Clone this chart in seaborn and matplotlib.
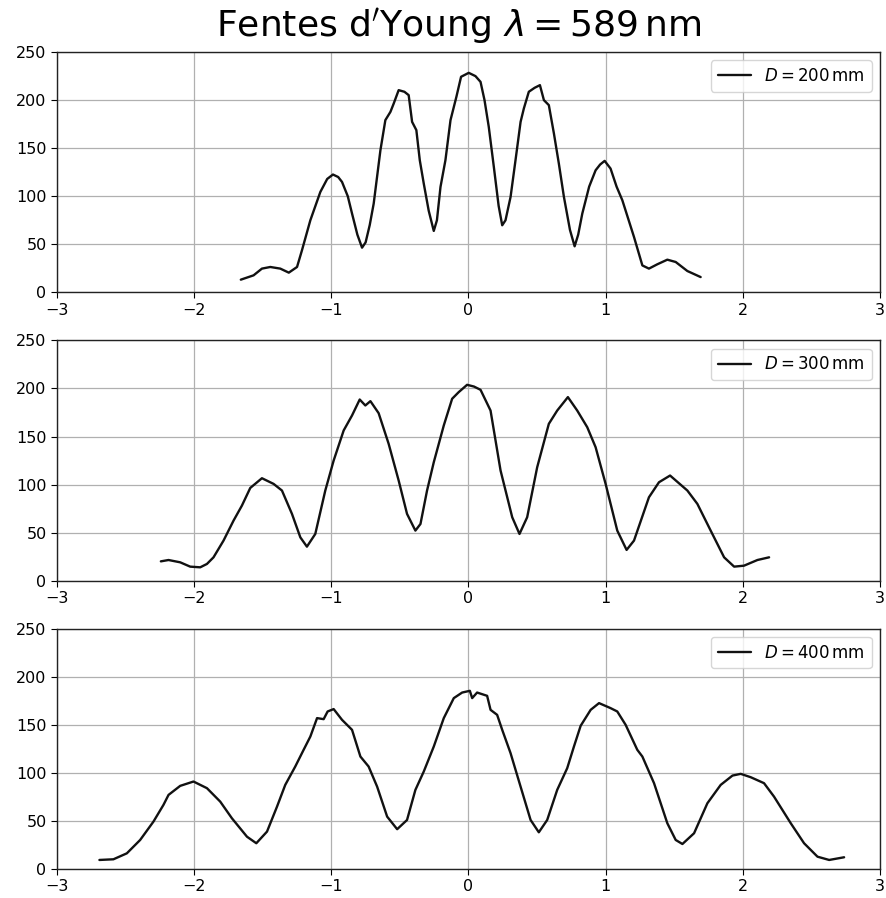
import matplotlib
matplotlib.use("Agg")
import matplotlib.pyplot as plt
import seaborn as sns
import pandas as pd

# Panel 1 : D = 200 mm
x_200 = [-1.66, -1.567, -1.506, -1.445, -1.372, -1.31, -1.25, -1.214, -1.153, -1.08,
         -1.03, -0.988, -0.95, -0.922, -0.88, -0.849, -0.81, -0.776, -0.75, -0.72,
         -0.691, -0.642, -0.606, -0.569, -0.545, -0.509, -0.467, -0.436, -0.411, -0.38,
         -0.355, -0.326, -0.29, -0.253, -0.23, -0.204, -0.168, -0.131, -0.088, -0.054,
         0.002, 0.051, 0.088, 0.117, 0.148, 0.185, 0.22, 0.246, 0.27, 0.307,
         0.343, 0.38, 0.404, 0.44, 0.482, 0.521, 0.55, 0.586, 0.623, 0.659,
         0.696, 0.74, 0.774, 0.80, 0.83, 0.88, 0.927, 0.96, 0.993, 1.036,
         1.08, 1.122, 1.207, 1.268, 1.316, 1.377, 1.45, 1.511, 1.596, 1.693]
y_200 = [13.2, 17.7, 24.7, 26.4, 24.7, 20.5, 26.4, 43.8, 75, 104.5,
         118, 122.6, 120, 114.9, 100, 82, 60, 46.5, 52, 70,
         92.4, 147.9, 179.2, 187.8, 196.5, 210.4, 208.7, 205.2, 177.4, 168.8,
         137.5, 113.2, 85, 63.9, 75, 109.7, 137.5, 179.2, 203.5, 224.3,
         228.4, 225, 219, 200, 172.2, 130.5, 90, 69.8, 75, 99.3,
         137.5, 177.4, 191.4, 208.7, 212.8, 215.6, 200, 194.8, 165.3, 134,
         99.3, 65, 47.9, 60, 82, 110, 127, 133, 136.8, 128.8,
         110, 95.8, 57.6, 28, 24.7, 29.2, 34, 31.6, 22.2, 15.9]

# Panel 2 : D = 300 mm
x_300 = [-2.243, -2.187, -2.102, -2.029, -1.956, -1.907, -1.859, -1.786, -1.713, -1.652,
         -1.591, -1.506, -1.421, -1.36, -1.287, -1.226, -1.178, -1.117, -1.044, -0.983,
         -0.91, -0.849, -0.793, -0.752, -0.715, -0.655, -0.582, -0.509, -0.448, -0.387,
         -0.35, -0.302, -0.253, -0.18, -0.119, -0.071, -0.01, 0.04, 0.088, 0.161, 0.234,
         0.319, 0.372, 0.428, 0.501, 0.586, 0.647, 0.725, 0.793, 0.866, 0.927,
         1.0, 1.085, 1.153, 1.207, 1.316, 1.389, 1.47, 1.596, 1.669, 1.766,
         1.864, 1.937, 2.009, 2.107, 2.192]
y_300 = [20.1, 21.5, 19.1, 14.6, 13.9, 17.4, 24.3, 41.7, 62.5, 78.1,
         96.5, 106.6, 100.7, 93.8, 69.5, 45.1, 35.4, 48.6, 93.8, 125,
         156.3, 171.9, 188.5, 182.3, 186.8, 174.3, 142.4, 104.2, 69.5, 52.1,
         59, 93.8, 123.2, 161.5, 189.3, 196.2, 203.8, 202, 198.6, 177, 114.6,
         66, 48.6, 66, 118, 163.2, 177, 191, 177, 159.7, 138.9,
         100.7, 52.1, 32, 41.7, 86.8, 102.4, 109.4, 93.8, 79.9, 52.1,
         24.3, 14.6, 15.6, 21.5, 24.3]

# Panel 3 : D = 400 mm
x_400 = [-2.691, -2.589, -2.491, -2.394, -2.297, -2.224, -2.187, -2.102, -2.005, -1.907,
         -1.81, -1.725, -1.615, -1.547, -1.469, -1.396, -1.336, -1.263, -1.202, -1.153,
         -1.104, -1.056, -1.027, -0.983, -0.922, -0.849, -0.788, -0.728, -0.666, -0.593,
         -0.52, -0.448, -0.387, -0.326, -0.253, -0.18, -0.107, -0.046, 0.01, 0.027,
         0.063, 0.136, 0.161, 0.209, 0.246, 0.307, 0.38, 0.453, 0.513, 0.574,
         0.647, 0.72, 0.769, 0.818, 0.891, 0.952, 1.036, 1.085, 1.146, 1.231,
         1.268, 1.353, 1.45, 1.511, 1.56, 1.645, 1.742, 1.839, 1.925, 1.985,
         2.058, 2.155, 2.228, 2.35, 2.447, 2.545, 2.63, 2.739]
y_400 = [9.4, 10.1, 16.3, 30.2, 49.3, 66.7, 77.1, 86.5, 91, 84.1,
         70.1, 52.8, 33.6, 26.8, 38.9, 64.9, 87.5, 106.6, 124, 137.8,
         157, 155.9, 163.9, 166.4, 155.2, 144.8, 117, 106.6, 85.7, 54.5,
         41.4, 51, 82.3, 101.4, 127.4, 157, 177.8, 183.6, 185.4, 177.8,
         183.6, 180.2, 165.6, 160.4, 144.8, 120.5, 85.7, 51, 38.2, 51,
         82.3, 104.9, 127.4, 149, 165.6, 172.6, 167.4, 163.9, 150, 124,
         117, 89.3, 47.6, 30.2, 26, 37.2, 68.4, 87.5, 97.2, 99,
         95.5, 89.3, 75.3, 47.6, 26.8, 12.8, 9.4, 12.2]

labels = [r"$D = 200\,\mathrm{mm}$", r"$D = 300\,\mathrm{mm}$", r"$D = 400\,\mathrm{mm}$"]
series = [(x_200, y_200), (x_300, y_300), (x_400, y_400)]
x_ticks = [-3, -2, -1, 0, 1, 2, 3]
y_ticks = [0, 50, 100, 150, 200, 250]

sns.set_style("ticks")
plt.rcParams["font.family"] = ["DejaVu Sans"]
plt.rcParams["mathtext.fontset"] = "dejavusans"
plt.rcParams["text.color"] = "black"
plt.rcParams["xtick.color"] = "black"
plt.rcParams["ytick.color"] = "black"

fig, axes = plt.subplots(3, 1, figsize=(8.87, 8.98), dpi=100)
fig.subplots_adjust(left=0.0643, right=0.992, top=0.942, bottom=0.0323, hspace=0.2)

for ax, (xs, ys), lab in zip(axes, series, labels):
    df = pd.DataFrame({"x": xs, "y": ys})
    sns.lineplot(data=df, x="x", y="y", ax=ax, color="#111111", linewidth=1.7, label=lab)
    ax.set_xlim(-3, 3)
    ax.set_ylim(0, 250)
    ax.set_xticks(x_ticks)
    ax.set_yticks(y_ticks)
    ax.set_xlabel("")
    ax.set_ylabel("")
    ax.grid(True, color="#b0b0b0", linewidth=0.9)
    ax.tick_params(labelsize=11.5, length=4, colors="black")
    for s in ax.spines.values():
        s.set_color("#222222")
        s.set_linewidth(1.0)
    ax.legend(loc="upper right", fontsize=12, frameon=True, fancybox=True)

fig.suptitle(r"Fentes d$'$Young $\lambda = 589\,\mathrm{nm}$", fontsize=26, x=0.517, y=0.993)
fig.savefig("out.png", dpi=100)
